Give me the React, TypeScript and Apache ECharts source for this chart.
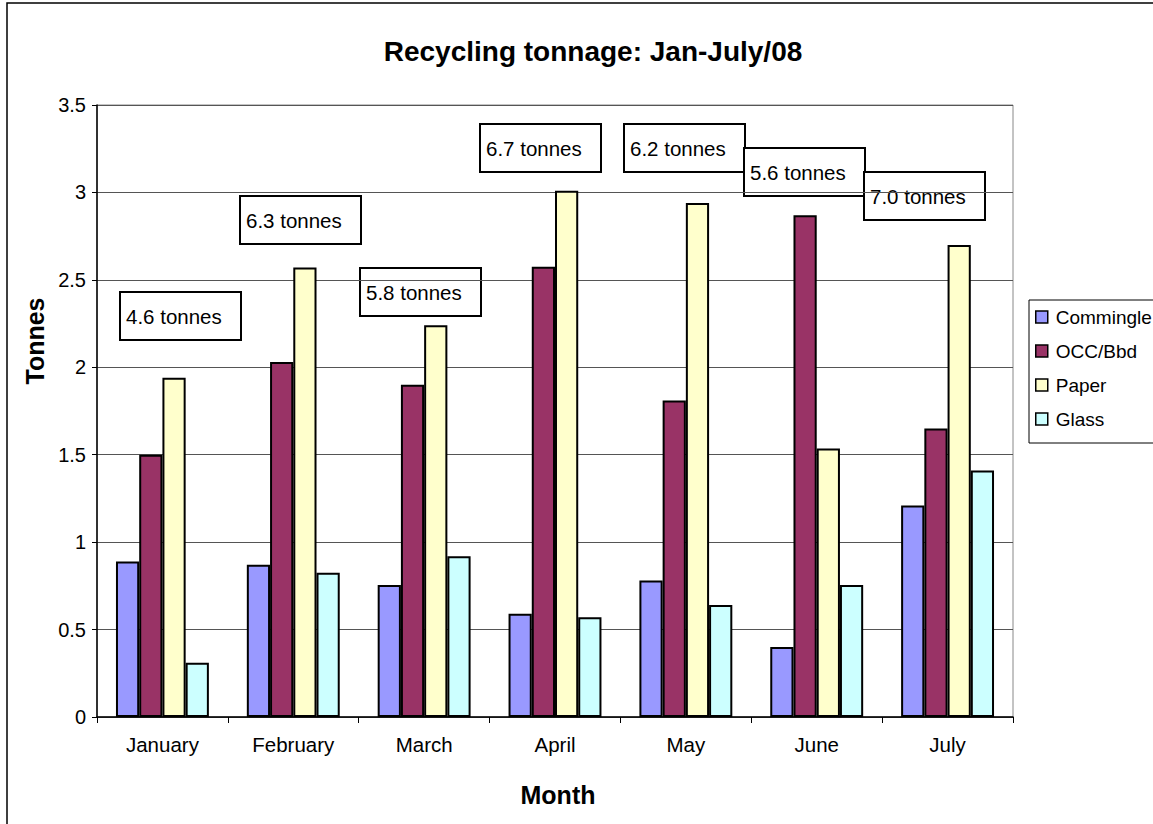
import React, { useEffect, useRef } from "react";
import * as echarts from "echarts";

const months = ["January", "February", "March", "April", "May", "June", "July"];
const seriesNames = ["Commingle", "OCC/Bbd", "Paper", "Glass"];
const commingled = [0.89, 0.87, 0.755, 0.59, 0.78, 0.4, 1.21];
const occBbd = [1.5, 2.03, 1.9, 2.575, 1.81, 2.87, 1.65];
const paper = [1.94, 2.57, 2.24, 3.01, 2.94, 1.535, 2.7];
const glass = [0.31, 0.825, 0.92, 0.57, 0.64, 0.755, 1.41];
const totalLabels = ["4.6 tonnes", "6.3 tonnes", "5.8 tonnes", "6.7 tonnes", "6.2 tonnes", "5.6 tonnes", "7.0 tonnes"];
const yTicks = { min: 0, max: 3.5, interval: 0.5 };

const seriesColors = ["#9999FF", "#993366", "#FFFFCC", "#CCFFFF"];
const boxPositions: [number, number][] = [
  [120, 292],
  [240, 196],
  [360, 268],
  [480, 124],
  [624, 124],
  [744, 148],
  [864, 172],
];

const FONT = "'Liberation Sans', Arial, sans-serif";

export default function App() {
  const ref = useRef<HTMLDivElement>(null);
  useEffect(() => {
    document.body.style.margin = "0";
    if (!ref.current) return;
    const chart = echarts.init(ref.current, null, { renderer: "svg" });
    const dataSets = [commingled, occBbd, paper, glass];
    const boxes = totalLabels.map((t, i) => ({
      type: "group",
      x: boxPositions[i][0],
      y: boxPositions[i][1],
      z: 100,
      children: [
        {
          type: "rect",
          shape: { x: 0, y: 0, width: 121, height: 48 },
          style: { fill: "#fff", stroke: "#000", lineWidth: 2 },
        },
        {
          type: "text",
          x: 6,
          y: 24,
          style: {
            text: t,
            font: `20.5px ${FONT}`,
            fill: "#000",
            textVerticalAlign: "middle",
          },
        },
      ],
    }));
    chart.setOption({
      animation: false,
      backgroundColor: "#fff",
      textStyle: { fontFamily: FONT },
      title: {
        text: "Recycling tonnage: Jan-July/08",
        left: 588,
        top: 32,
        textAlign: "center",
        textStyle: { fontSize: 28, fontWeight: "bold", color: "#000", fontFamily: FONT },
      },
      legend: {
        orient: "vertical",
        left: 1029,
        top: 300,
        data: seriesNames,
        icon: "rect",
        itemWidth: 12,
        itemHeight: 12,
        itemGap: 14,
        padding: [7, 10, 14, 6],
        borderColor: "#000",
        borderWidth: 1,
        itemStyle: { borderColor: "#000", borderWidth: 1.5 },
        textStyle: { fontSize: 19, color: "#000", fontFamily: FONT, lineHeight: 20, padding: [0, 0, 0, 3] },
      },
      grid: {
        left: 97,
        top: 105,
        width: 916,
        height: 612,
        show: true,
        borderColor: "#888",
        borderWidth: 1,
        containLabel: false,
      },
      xAxis: {
        type: "category",
        data: months,
        axisLine: { lineStyle: { color: "#000", width: 1.5 } },
        axisTick: { show: true, length: 6, alignWithLabel: false, interval: 0, lineStyle: { color: "#000" } },
        axisLabel: { fontSize: 20.5, color: "#000", margin: 17, interval: 0, fontFamily: FONT },
      },
      yAxis: {
        type: "value",
        min: yTicks.min,
        max: yTicks.max,
        interval: yTicks.interval,
        axisLine: { show: true, lineStyle: { color: "#000", width: 1.5 } },
        axisTick: { show: true, length: 5, lineStyle: { color: "#000" } },
        axisLabel: { fontSize: 20, color: "#000", margin: 11, fontFamily: FONT },
        splitLine: { show: true, lineStyle: { color: "#555", width: 1 } },
      },
      series: seriesNames.map((name, i) => ({
        name,
        type: "bar",
        data: dataSets[i],
        barGap: "0%",
        barCategoryGap: "29%",
        itemStyle: { color: seriesColors[i], borderColor: "#000", borderWidth: 2 },
      })),
      graphic: [
        {
          type: "rect",
          shape: { x: 7, y: 3, width: 1300, height: 1000 },
          style: { fill: "none", stroke: "#000", lineWidth: 1.5 },
          silent: true,
          z: -10,
        },
        {
          type: "text",
          x: 35,
          y: 341,
          rotation: Math.PI / 2,
          style: {
            text: "Tonnes",
            font: `bold 25px ${FONT}`,
            fill: "#000",
            textAlign: "center",
            textVerticalAlign: "middle",
          },
        },
        {
          type: "text",
          x: 558,
          y: 795,
          style: {
            text: "Month",
            font: `bold 25px ${FONT}`,
            fill: "#000",
            textAlign: "center",
            textVerticalAlign: "middle",
          },
        },
        ...boxes,
      ],
    });
    return () => chart.dispose();
  }, []);
  return <div ref={ref} style={{ width: 1153, height: 824 }} />;
}
